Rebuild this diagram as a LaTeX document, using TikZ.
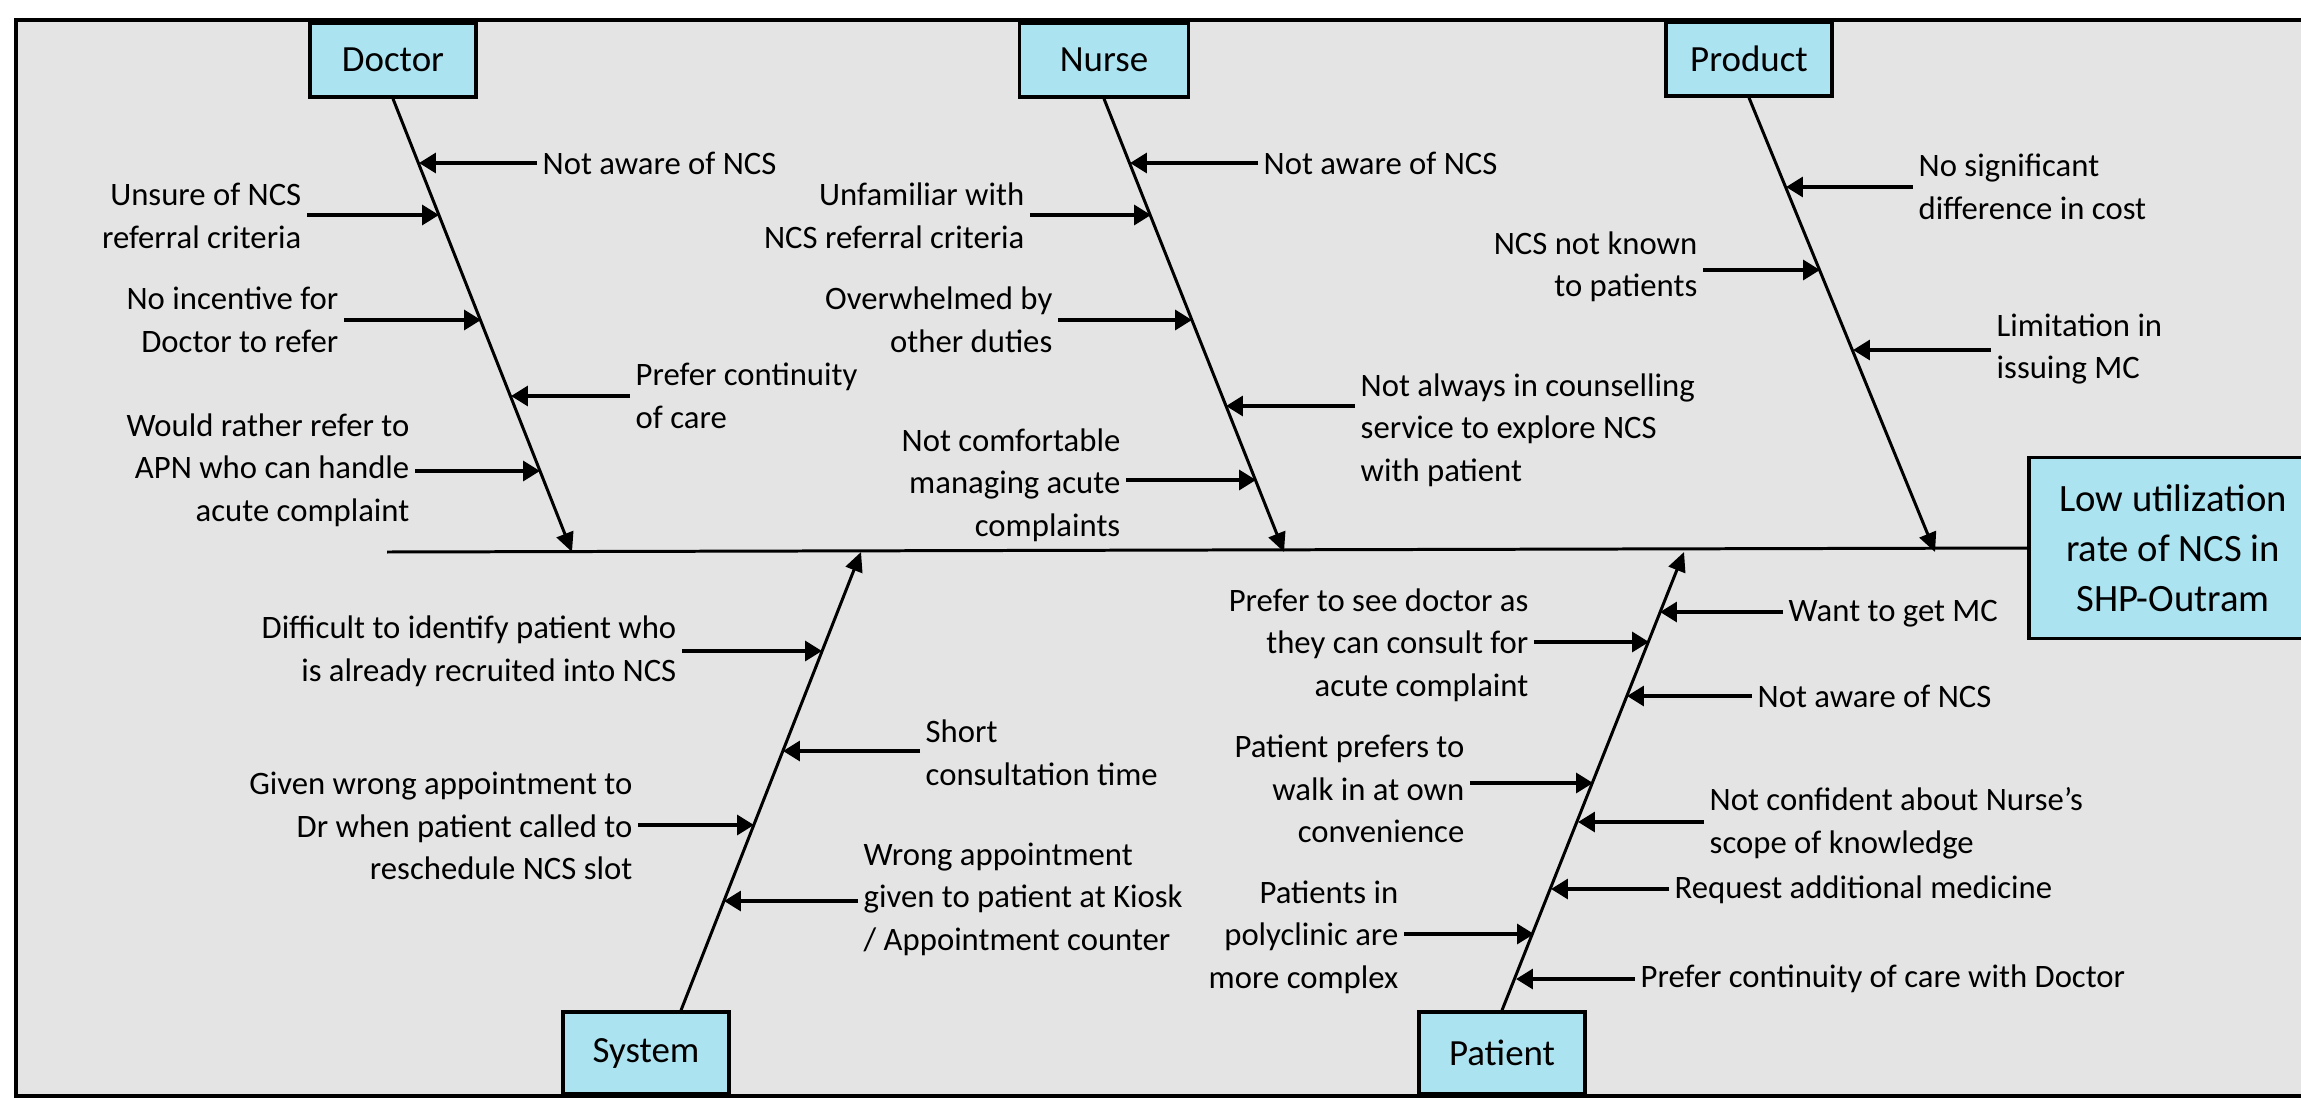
\documentclass[tikz,border=0pt]{standalone}
\usepackage{fontspec}
\setmainfont{Carlito}
\usetikzlibrary{arrows.meta}
\definecolor{panelgray}{RGB}{228,228,228}
\definecolor{boxcyan}{RGB}{172,227,240}

\tikzset{
  catbox/.style={draw, fill=boxcyan, line width=1pt, minimum width=1.66cm, minimum height=0.74cm, inner sep=0pt, font=\fontsize{10.5}{12.6}\selectfont},
  effectbox/.style={draw, fill=boxcyan, line width=1pt, minimum width=2.88cm, minimum height=1.81cm, align=center, font=\fontsize{11}{14.3}\selectfont},
  cause/.style={inner sep=0.05cm, font=\fontsize{9.3}{12.1}\selectfont},
  causeL/.style={cause, anchor=east, align=right},
  causeR/.style={cause, anchor=west, align=left},
  bone/.style={line width=0.85pt, -{Triangle[length=5.5pt,width=5pt]}},
  hit/.style={line width=1.1pt, -{Triangle[length=4.8pt,width=5.6pt]}}
}

\begin{document}
\begin{tikzpicture}[x=0.01cm,y=-0.01cm]
\useasboundingbox (0,0) rectangle (2301,1097);
\fill[panelgray] (16,20) rectangle (2330,1096);
\draw[line width=1pt] (2330,20) -- (16,20) -- (16,1096) -- (2330,1096);

% categories and effect
\node[catbox] (doctor) at (393,60) {Doctor};
\node[catbox, minimum width=1.69cm] (nurse) at (1104,60) {Nurse};
\node[catbox] (product) at (1749,59) {Product};
\node[catbox, minimum height=0.82cm] (system) at (646,1053) {System};
\node[catbox, minimum height=0.82cm] (patient) at (1502,1053) {Patient};
\node[effectbox] (effect) at (2173,548) {Low utilization\\rate of NCS in\\SHP-Outram};

% backbone
\coordinate (head) at (387,552);
\coordinate (dtip) at (572,552);
\coordinate (ntip) at (1284,552);
\coordinate (ptip) at (1935,552);
\coordinate (stip) at (861,552);
\coordinate (ttip) at (1684,552);
\draw[line width=0.85pt] (head) -- (effect.west);
\draw[bone] (doctor.south) -- (dtip);
\draw[bone] (nurse.south) -- (ntip);
\draw[bone] (product.south) -- (ptip);
\draw[bone] ([xshift=0.35cm]system.north) -- (stip);
\draw[bone] (patient.north) -- (ttip);

% Doctor
\node[causeR] (d1) at (537,163) {Not aware of NCS};
\node[causeL] (d2) at (307,216) {Unsure of NCS\\referral criteria};
\node[causeL] (d3) at (344,320) {No incentive for\\Doctor to refer};
\node[causeR] (d4) at (630,396) {Prefer continuity\\of care};
\node[causeL] (d5) at (415,470) {Would rather refer to\\APN who can handle\\acute complaint};
\coordinate (d1t) at (419,163);
\coordinate (d2t) at (439,215);
\coordinate (d3t) at (481,320);
\coordinate (d4t) at (511,396);
\coordinate (d5t) at (540,471);
\draw[hit] (d1.west |- d1t) -- (d1t);
\draw[hit] (d2.east |- d2t) -- (d2t);
\draw[hit] (d3.east |- d3t) -- (d3t);
\draw[hit] (d4.west |- d4t) -- (d4t);
\draw[hit] (d5.east |- d5t) -- (d5t);

% Nurse
\node[causeR] (n1) at (1258,163) {Not aware of NCS};
\node[causeL] (n2) at (1030,216) {Unfamiliar with\\NCS referral criteria};
\node[causeL] (n3) at (1058,320) {Overwhelmed by\\other duties};
\node[causeR] (n4) at (1355,430) {Not always in counselling\\service to explore NCS\\with patient};
\node[causeL] (n5) at (1126,485) {Not comfortable\\managing acute\\complaints};
\coordinate (n1t) at (1130,163);
\coordinate (n2t) at (1151,215);
\coordinate (n3t) at (1192,320);
\coordinate (n4t) at (1226,406);
\coordinate (n5t) at (1256,480);
\draw[hit] (n1.west |- n1t) -- (n1t);
\draw[hit] (n2.east |- n2t) -- (n2t);
\draw[hit] (n3.east |- n3t) -- (n3t);
\draw[hit] (n4.west |- n4t) -- (n4t);
\draw[hit] (n5.east |- n5t) -- (n5t);

% Product
\node[causeR] (p1) at (1913,187) {No significant\\difference in cost};
\node[causeL] (p2) at (1703,267) {NCS not known\\to patients};
\node[causeR] (p3) at (1991,349) {Limitation in\\issuing MC};
\coordinate (p1t) at (1786,187);
\coordinate (p2t) at (1820,270);
\coordinate (p3t) at (1853,350);
\draw[hit] (p1.west |- p1t) -- (p1t);
\draw[hit] (p2.east |- p2t) -- (p2t);
\draw[hit] (p3.west |- p3t) -- (p3t);

% System
\node[causeL] (s1) at (682,651) {Difficult to identify patient who\\is already recruited into NCS};
\node[causeR] (s2) at (920,753) {Short\\consultation time};
\node[causeL] (s3) at (638,826) {Given wrong appointment to\\Dr when patient called to\\reschedule NCS slot};
\node[causeR] (s4) at (858,899) {Wrong appointment\\given to patient at Kiosk\\/ Appointment counter};
\coordinate (s1t) at (822,651);
\coordinate (s2t) at (783,751);
\coordinate (s3t) at (754,825);
\coordinate (s4t) at (724,901);
\draw[hit] (s1.east |- s1t) -- (s1t);
\draw[hit] (s2.west |- s2t) -- (s2t);
\draw[hit] (s3.east |- s3t) -- (s3t);
\draw[hit] (s4.west |- s4t) -- (s4t);

% Patient
\node[causeR] (t1) at (1783,614) {Want to get MC};
\node[causeL] (t2) at (1534,645) {Prefer to see doctor as\\they can consult for\\acute complaint};
\node[causeR] (t3) at (1752,696) {Not aware of NCS};
\node[causeL] (t4) at (1470,789) {Patient prefers to\\walk in at own\\convenience};
\node[causeR] (t5) at (1704,823) {Not confident about Nurse’s\\scope of knowledge};
\node[causeR] (t6) at (1669,890) {Request additional medicine};
\node[causeL] (t7) at (1404,937) {Patients in\\polyclinic are\\more complex};
\node[causeR] (t8) at (1635,979) {Prefer continuity of care with Doctor};
\coordinate (t1t) at (1660,612);
\coordinate (t2t) at (1649,642);
\coordinate (t3t) at (1627,696);
\coordinate (t4t) at (1593,783);
\coordinate (t5t) at (1578,822);
\coordinate (t6t) at (1551,889);
\coordinate (t7t) at (1534,934);
\coordinate (t8t) at (1516,979);
\draw[hit] (t1.west |- t1t) -- (t1t);
\draw[hit] (t2.east |- t2t) -- (t2t);
\draw[hit] (t3.west |- t3t) -- (t3t);
\draw[hit] (t4.east |- t4t) -- (t4t);
\draw[hit] (t5.west |- t5t) -- (t5t);
\draw[hit] (t6.west |- t6t) -- (t6t);
\draw[hit] (t7.east |- t7t) -- (t7t);
\draw[hit] (t8.west |- t8t) -- (t8t);
\end{tikzpicture}
\end{document}
